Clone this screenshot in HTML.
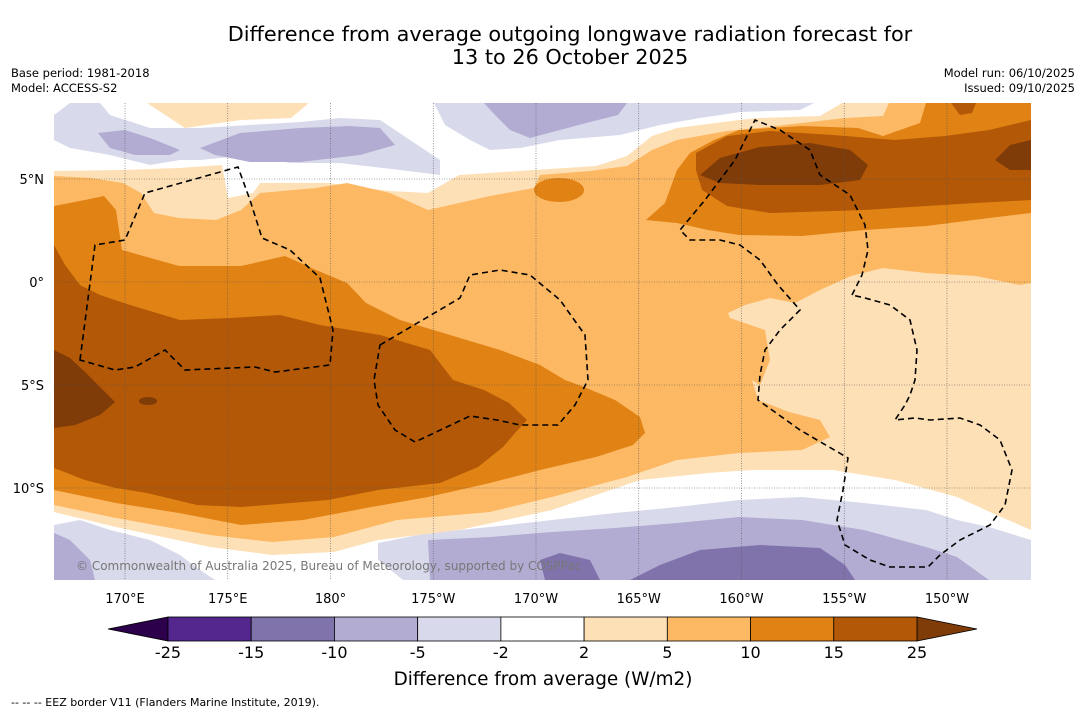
<!DOCTYPE html>
<html><head><meta charset="utf-8"><style>
body{margin:0;background:#fff;width:1085px;height:713px;overflow:hidden;font-family:"DejaVu Sans","Liberation Sans",sans-serif;}
svg{position:absolute;left:0;top:0;font-family:"DejaVu Sans","Liberation Sans",sans-serif}
</style></head><body>
<svg width="1085" height="713" xmlns="http://www.w3.org/2000/svg">
<text x="570" y="41" text-anchor="middle" font-size="20.8" fill="#000">Difference from average outgoing longwave radiation forecast for</text>
<text x="570" y="64" text-anchor="middle" font-size="20.8" fill="#000">13 to 26 October 2025</text>
<text x="11" y="77" font-size="11.5">Base period: 1981-2018</text>
<text x="11" y="92" font-size="11.5">Model: ACCESS-S2</text>
<text x="1075" y="77" font-size="11.5" text-anchor="end">Model run: 06/10/2025</text>
<text x="1075" y="92" font-size="11.5" text-anchor="end">Issued: 09/10/2025</text>
<defs><clipPath id="pc"><rect x="54" y="103" width="977" height="477"/></clipPath></defs>
<g clip-path="url(#pc)">
<rect x="54" y="103" width="977" height="477" fill="#fff"/>
<g stroke="none">
<polygon fill="#d8daeb" points="54,115 70,103 100,103 110,115 150,128 200,128 250,125 300,122 340,118 380,120 410,140 440,160 440,175 400,170 340,163 290,163 250,155 200,160 180,160 150,165 110,155 70,148 54,140"/>
<polygon fill="#b2abd2" points="98,133 125,130 150,138 180,150 170,155 135,155 110,148"/>
<polygon fill="#b2abd2" points="200,148 240,133 300,128 350,126 380,128 395,145 360,155 300,162 250,162 215,155"/>
<polygon fill="#d8daeb" points="434,103 814,103 800,110 740,112 700,118 660,125 620,135 560,140 520,148 490,150 470,140 445,125"/>
<polygon fill="#b2abd2" points="484,103 627,103 618,115 590,122 560,130 530,138 510,130 495,115"/>
<polygon fill="#d8daeb" points="54,525 80,520 110,530 150,540 180,555 200,570 215,580 54,580"/>
<polygon fill="#b2abd2" points="54,533 70,540 90,560 95,580 54,580"/>
<polygon fill="#d8daeb" points="378,543 428,533 490,527 552,520 615,513 677,507 739,500 802,497 864,503 926,510 957,520 989,527 1031,540 1031,580 403,580 378,560"/>
<polygon fill="#b2abd2" points="428,540 490,537 552,532 615,528 677,523 739,517 802,520 864,530 926,547 957,557 989,580 430,580"/>
<polygon fill="#8073ac" points="540,560 560,553 590,560 600,580 545,580"/>
<polygon fill="#8073ac" points="630,580 660,565 700,550 760,545 820,548 845,565 855,580"/>
<polygon fill="#fee0b6" points="54,171 122,170 179,168 222,165 228,198 253,193 260,183 328,183 390,191 428,193 459,175 534,170 596,166 627,156 652,136 677,128 739,120 758,118 820,116 842,103 1031,103 1031,530 1001,517 957,497 895,480 833,470 752,470 708,473 640,480 552,510 459,530 378,540 334,552 272,555 210,547 116,527 54,512"/>
<polygon fill="#fee0b6" points="147,103 185,128 241,120 291,118 309,103"/>
<polygon fill="#fdb863" points="54,176 91,178 123,183 141,193 154,213 179,218 216,220 241,210 260,193 316,188 347,183 390,193 428,210 459,203 490,196 534,188 540,175 590,171 627,166 652,150 677,140 727,131 758,128 802,123 845,118 883,116 889,103 1031,103 1031,283 1020,285 976,276 926,273 883,268 851,276 820,290 795,303 770,298 745,305 728,313 730,318 765,330 770,360 760,385 752,380 758,400 789,412 820,420 830,437 802,450 739,453 677,460 627,477 552,497 490,512 397,520 334,537 272,542 210,535 116,518 54,505"/>
<polygon fill="#e08214" points="54,206 85,200 104,196 116,210 122,250 179,266 241,266 285,256 316,270 347,283 366,303 400,320 450,335 500,350 540,365 565,380 584,387 615,400 640,417 645,433 633,445 596,457 540,470 490,483 428,497 366,508 303,520 241,525 179,513 116,503 54,490"/>
<ellipse fill="#e08214" cx="559" cy="190" rx="25" ry="12"/>
<polygon fill="#e08214" points="646,220 665,203 677,170 690,153 714,140 739,130 802,126 858,128 883,136 920,123 926,103 1031,103 1031,213 989,218 926,226 864,230 802,236 739,235 708,230 677,223"/>
<polygon fill="#b35806" points="54,245 65,265 80,285 100,295 130,305 180,320 230,318 280,315 320,325 380,335 430,350 453,380 484,390 509,403 527,420 515,433 503,447 478,467 440,483 378,490 328,500 241,507 197,505 147,493 116,488 85,480 54,468"/>
<polygon fill="#b35806" points="696,153 727,136 770,131 833,135 895,140 945,136 989,130 1031,120 1031,200 976,203 926,206 864,210 770,213 727,206 702,190 696,170"/>
<polygon fill="#b35806" points="951,103 976,103 972,113 960,115"/>
<polygon fill="#7f3b08" points="54,350 70,358 85,372 115,402 100,415 75,425 54,428"/>
<ellipse fill="#7f3b08" cx="148" cy="401" rx="9" ry="4"/>
<polygon fill="#7f3b08" points="700,175 720,158 760,147 810,143 850,150 868,165 860,180 820,185 760,185 720,183"/>
<polygon fill="#7f3b08" points="995,160 1010,145 1031,140 1031,170 1010,170"/>
</g>
<g id="grid" stroke="#555" stroke-width="0.6" stroke-dasharray="1,1.5"></g>
<g fill="none" stroke="#000" stroke-width="1.6" stroke-dasharray="6,4">
<path d="M80,360 L95,245 L125,240 L145,193 L238,167 L250,200 L262,238 L290,250 L320,278 L328,310 L333,330 L330,365 L275,372 L255,367 L185,370 L165,350 L135,367 L115,370 Z"/>
<path d="M380,345 L460,298 L470,275 L500,270 L530,275 L560,300 L585,335 L588,380 L575,405 L558,425 L520,425 L497,420 L470,416 L415,442 L395,430 L378,405 L374,380 Z"/>
<path d="M852,295 L862,275 L868,250 L865,225 L850,195 L820,175 L810,150 L780,130 L755,120 L735,160 L705,200 L680,230 L690,240 L720,240 L740,245 L760,260 L778,285 L800,310 L780,330 L765,350 L760,375 L758,400 L800,430 L848,458 L843,490 L837,520 L845,545 L870,560 L890,567 L928,567 L940,555 L960,540 L990,525 L1005,505 L1012,470 L1000,440 L980,425 L960,418 L930,420 L915,418 L895,420 L905,405 L910,395 L915,380 L917,350 L910,320 L890,305 L865,298 Z"/>
</g>
<text x="76" y="570" font-size="12" fill="#777">© Commonwealth of Australia 2025, Bureau of Meteorology, supported by COSPPac</text>
</g>
<g id="axes" font-size="13" fill="#000"></g>
<g id="cbar"></g>
<text x="543" y="685" text-anchor="middle" font-size="18.4">Difference from average (W/m2)</text>
<text x="11" y="706" font-size="11">-- -- -- EEZ border V11 (Flanders Marine Institute, 2019).</text>
</svg>
<script>
const lonLabels=["170°E","175°E","180°","175°W","170°W","165°W","160°W","155°W","150°W"];
const lonValues=[170,175,180,185,190,195,200,205,210];
const latLabels=["5°N","0°","5°S","10°S"];
const latValues=[5,0,-5,-10];
const levels=[-25,-15,-10,-5,-2,2,5,10,15,25];
const colors=["#54278f","#8073ac","#b2abd2","#d8daeb","#ffffff","#fee0b6","#fdb863","#e08214","#b35806"];
const underColor="#2d004b", overColor="#7f3b08";
const NS="http://www.w3.org/2000/svg";
const xLon=v=>125+(v-170)*20.55;
const yLat=v=>282-v*20.6;
const grid=document.getElementById('grid'), axes=document.getElementById('axes'), cbar=document.getElementById('cbar');
function mk(t,a,p){const e=document.createElementNS(NS,t);for(const k in a)e.setAttribute(k,a[k]);p.appendChild(e);return e;}
lonValues.forEach((v,i)=>{
 const l=mk('line',{x1:xLon(v),x2:xLon(v),y1:103,y2:580},grid);
 
 
 const t=mk('text',{x:xLon(v),y:603,'text-anchor':'middle'},axes);t.textContent=lonLabels[i];
 
 
});
latValues.forEach((v,i)=>{
 const l=mk('line',{x1:54,x2:1031,y1:yLat(v),y2:yLat(v)},grid);
 
 
 const t=mk('text',{x:44,y:yLat(v)+5,'text-anchor':'end'},axes);t.textContent=latLabels[i];
 
 
});
const cx0=168,cx1=917,cy=617,ch=24,bw=(cx1-cx0)/colors.length;
const lt=mk('polygon',{points:`108,${cy+ch/2} ${cx0},${cy} ${cx0},${cy+ch}`,fill:underColor,stroke:'#000','stroke-width':0.8},cbar);


const rt=mk('polygon',{points:`977,${cy+ch/2} ${cx1},${cy} ${cx1},${cy+ch}`,fill:overColor,stroke:'#000','stroke-width':0.8},cbar);


colors.forEach((c,i)=>{
 const r=mk('rect',{x:cx0+i*bw,y:cy,width:bw,height:ch,fill:c,stroke:'#000','stroke-width':0.8},cbar);
 
 
});
levels.forEach((v,i)=>{
 const t=mk('text',{x:cx0+i*bw,y:658,'text-anchor':'middle','font-size':16},cbar);t.textContent=v;
 
 
});
</script>
</body></html>
